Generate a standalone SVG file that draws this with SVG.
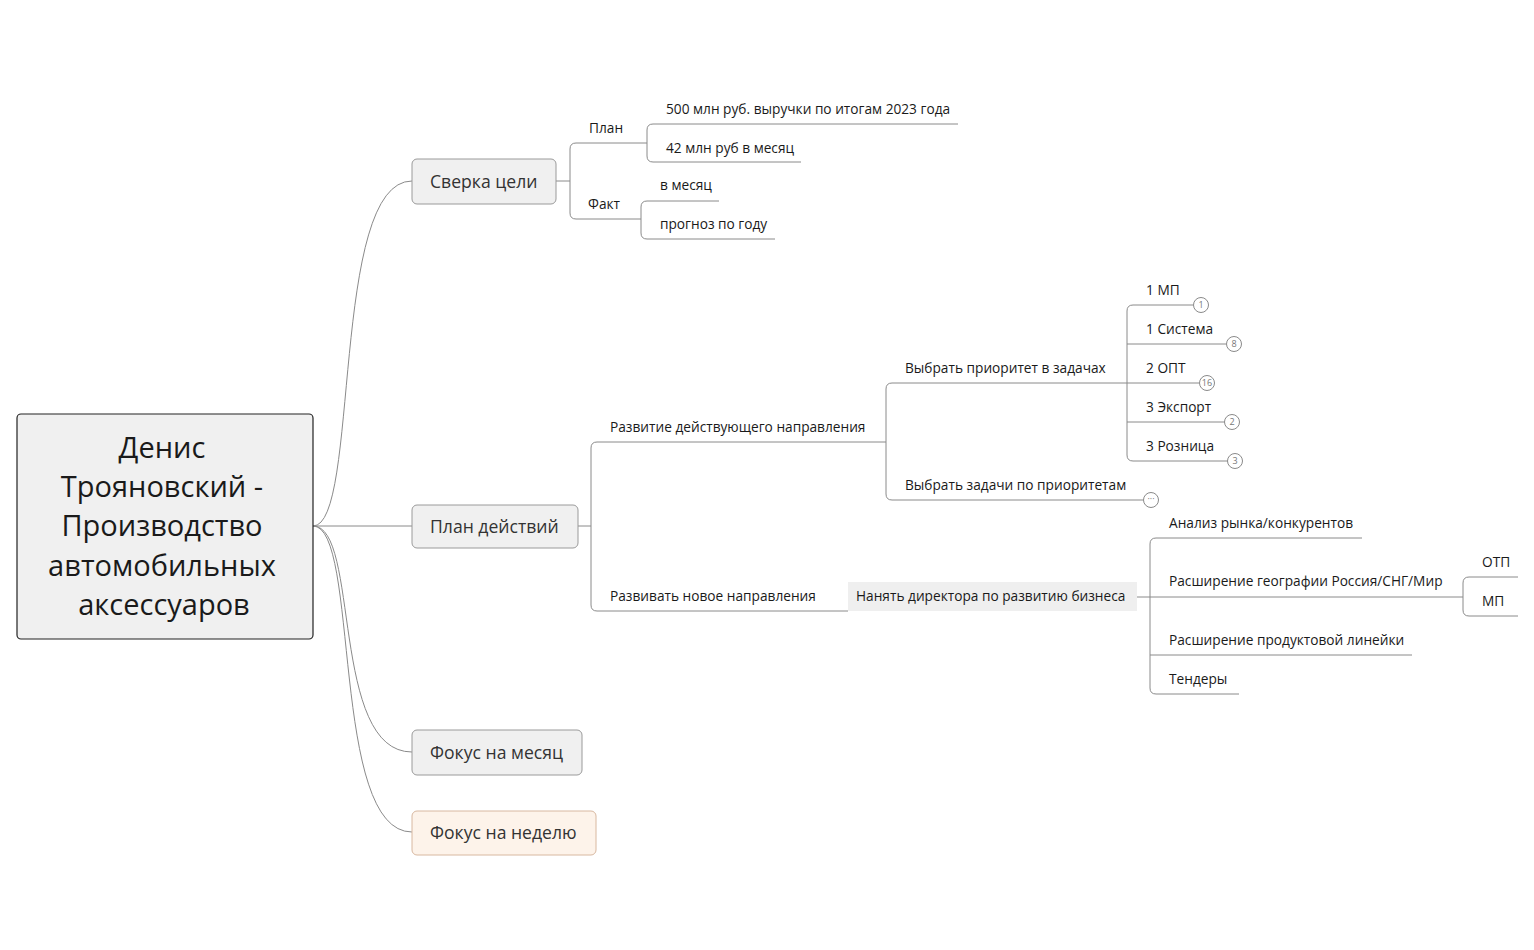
<svg xmlns="http://www.w3.org/2000/svg" width="1534" height="950" viewBox="0 0 1534 950">
<style>
text{font-family:"Open Sans","Noto Sans",sans-serif;fill:#1a1a1a}
.s{font-size:13.7px}
.m{font-size:17.6px;fill:#333}
.r{font-size:29px;text-anchor:middle}
.ln{fill:none;stroke:#8a8a8a;stroke-width:1}
.box{fill:#f0f0f0;stroke:#9a9a9a;stroke-width:1}
.bd{fill:#fff;stroke:#8a8a8a;stroke-width:1}
.bt{font-size:9px;fill:#777;text-anchor:middle}
</style>
<rect width="1534" height="950" fill="#fff"/>
<g id="connectors">
<path class="ln" d="M313,526 C360,526 330,181 412,181"/>
<path class="ln" d="M313,526 L412,526"/>
<path class="ln" d="M313,526 C360,526 330,752 412,752"/>
<path class="ln" d="M313,526 C360,526 330,832 412,832"/>
<path class="ln" d="M556,181 H570 M576,143 H647 M570,149 Q570,143 576,143 M570,149 V213 Q570,219 576,219 H641"/>
<path class="ln" d="M653,124 H958 M647,130 Q647,124 653,124 M647,130 V156 Q647,162 653,162 H801"/>
<path class="ln" d="M647,201 H719 M641,207 Q641,201 647,201 M641,207 V233 Q641,239 647,239 H775"/>
<path class="ln" d="M578,526 H591 M591,448 Q591,442 597,442 H886 M591,448 V605 Q591,611 597,611 H848"/>
<path class="ln" d="M886,442 V389 Q886,383 892,383 H1199 M886,442 V494 Q886,500 892,500 H1143"/>
<path class="ln" d="M1127,311 Q1127,305 1133,305 H1193 M1127,311 V455 Q1127,461 1133,461 H1228 M1127,344 H1226 M1127,422 H1225"/>
<path class="ln" d="M1137,597 H1150 M1150,544 Q1150,538 1156,538 H1362 M1150,544 V688 Q1150,694 1156,694 H1239 M1150,597 H1463 M1150,655 H1412"/>
<path class="ln" d="M1463,583 Q1463,577 1469,577 H1518 M1463,583 V610 Q1463,616 1469,616 H1518"/>
</g>
<g id="root"><rect x="17" y="414" width="296" height="225" rx="4" fill="#f0f0f0" stroke="#222" stroke-width="1.2"/>
<text class="r" x="162" y="458">Денис</text><text class="r" x="162" y="497">Трояновский -</text><text class="r" x="162" y="536">Производство</text><text class="r" x="162" y="576">автомобильных</text><text class="r" x="164" y="615">аксессуаров</text></g>
<g id="n-sverka"><rect class="box" x="412" y="159" width="144" height="45" rx="5"/><text class="m" x="430" y="188">Сверка цели</text></g>
<g id="n-plan-d"><rect class="box" x="412" y="505" width="166" height="43" rx="5"/><text class="m" x="430" y="533">План действий</text></g>
<g id="n-month"><rect class="box" x="412" y="730" width="170" height="45" rx="5"/><text class="m" x="430" y="759">Фокус на месяц</text></g>
<g id="n-week"><rect x="412" y="811" width="184" height="44" rx="5" fill="#fdf3ea" stroke="#d8b8a0"/><text class="m" x="430" y="839">Фокус на неделю</text></g>
<g id="n-plan"><text class="s" x="589" y="133">План</text></g>
<g id="n-fact"><text class="s" x="588" y="209">Факт</text></g>
<g id="n-500"><text class="s" x="666" y="114">500 млн руб. выручки по итогам 2023 года</text></g>
<g id="n-42"><text class="s" x="666" y="153">42 млн руб в месяц</text></g>
<g id="n-vm"><text class="s" x="660" y="190">в месяц</text></g>
<g id="n-prog"><text class="s" x="660" y="229">прогноз по году</text></g>
<g id="n-razv"><text class="s" x="610" y="432">Развитие действующего направления</text></g>
<g id="n-new"><text class="s" x="610" y="601">Развивать новое направления</text></g>
<g id="n-prio"><text class="s" x="905" y="373">Выбрать приоритет в задачах</text></g>
<g id="n-tasks"><text class="s" x="905" y="490">Выбрать задачи по приоритетам</text><circle class="bd" cx="1151" cy="500" r="7.5"/><text class="bt" x="1151" y="502">···</text></g>
<g id="n-mp1"><text class="s" x="1146" y="295">1 МП</text><circle class="bd" cx="1201" cy="305" r="7.5"/><text class="bt" x="1201" y="308">1</text></g>
<g id="n-sys"><text class="s" x="1146" y="334">1 Система</text><circle class="bd" cx="1234" cy="344" r="7.5"/><text class="bt" x="1234" y="347">8</text></g>
<g id="n-opt"><text class="s" x="1146" y="373">2 ОПТ</text><circle class="bd" cx="1207" cy="383" r="7.5"/><text class="bt" x="1207" y="386">16</text></g>
<g id="n-exp"><text class="s" x="1146" y="412">3 Экспорт</text><circle class="bd" cx="1232" cy="422" r="7.5"/><text class="bt" x="1232" y="425">2</text></g>
<g id="n-ret"><text class="s" x="1146" y="451">3 Розница</text><circle class="bd" cx="1235" cy="461" r="7.5"/><text class="bt" x="1235" y="464">3</text></g>
<g id="n-dir"><rect x="848" y="582" width="289" height="29" fill="#efefef"/><text class="s" x="856" y="601">Нанять директора по развитию бизнеса</text></g>
<g id="n-an"><text class="s" x="1169" y="528">Анализ рынка/конкурентов</text></g>
<g id="n-geo"><text class="s" x="1169" y="586">Расширение географии Россия/СНГ/Мир</text></g>
<g id="n-prod"><text class="s" x="1169" y="645">Расширение продуктовой линейки</text></g>
<g id="n-tend"><text class="s" x="1169" y="684">Тендеры</text></g>
<g id="n-otp"><text class="s" x="1482" y="567">ОТП</text></g>
<g id="n-mp2"><text class="s" x="1482" y="606">МП</text></g>
</svg>
